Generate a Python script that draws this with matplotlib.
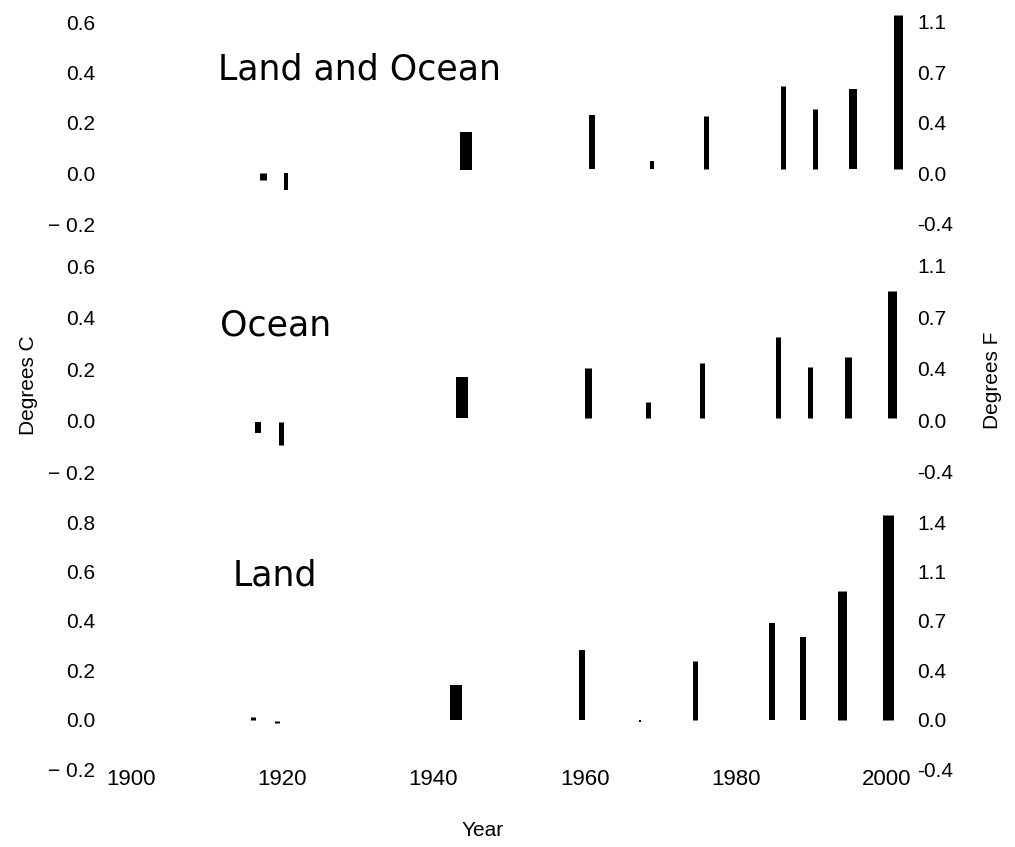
import matplotlib

matplotlib.use("Agg")
import matplotlib.pyplot as plt

# ----- data --------------------------------------------------------------
PANELS = ["Land and Ocean", "Ocean", "Land"]

LO_YEARS = [1917.5, 1920.5, 1944.3, 1961.0, 1968.9, 1976.1, 1986.2, 1990.5, 1995.5, 2001.5]
LO_LOW = [-0.026, -0.065, 0.014, 0.018, 0.018, 0.018, 0.018, 0.018, 0.018, 0.018]
LO_HIGH = [0.002, 0.002, 0.164, 0.232, 0.05, 0.228, 0.347, 0.255, 0.335, 0.628]

OC_YEARS = [1916.8, 1919.8, 1943.8, 1960.4, 1968.4, 1975.5, 1985.6, 1989.8, 1994.8, 2000.7]
OC_LOW = [-0.049, -0.095, 0.01, 0.01, 0.01, 0.01, 0.01, 0.01, 0.01, 0.01]
OC_HIGH = [-0.006, -0.006, 0.169, 0.204, 0.072, 0.223, 0.324, 0.208, 0.247, 0.503]

LA_YEARS = [1916.1, 1919.3, 1943.0, 1959.7, 1967.3, 1974.6, 1984.8, 1988.9, 1994.0, 2000.1]
LA_LOW = [0.0, -0.015, 0.0, 0.0, -0.008, 0.0, 0.0, 0.0, 0.0, 0.0]
LA_HIGH = [0.01, -0.005, 0.14, 0.28, 0.0, 0.237, 0.39, 0.335, 0.52, 0.83]

C_TICKS_6 = [-0.2, 0.0, 0.2, 0.4, 0.6]
C_LABELS_6 = ["\u2212 0.2", "0.0", "0.2", "0.4", "0.6"]
F_LABELS_6 = ["-0.4", "0.0", "0.4", "0.7", "1.1"]
C_TICKS_8 = [-0.2, 0.0, 0.2, 0.4, 0.6, 0.8]
C_LABELS_8 = ["\u2212 0.2", "0.0", "0.2", "0.4", "0.6", "0.8"]
F_LABELS_8 = ["-0.4", "0.0", "0.4", "0.7", "1.1", "1.4"]
YEAR_TICKS = [1900, 1920, 1940, 1960, 1980, 2000]
# -------------------------------------------------------------------------

W, H = 1015, 847
X0, X1 = 131, 887  # pixel columns of 1900 and 2000

# (years, low, high, bar widths px, yticks, C labels, F labels, top px, bottom px)
rows = [
    (LO_YEARS, LO_LOW, LO_HIGH, [7, 4, 12, 6, 4, 5, 5, 5, 8, 9],
     C_TICKS_6, C_LABELS_6, F_LABELS_6, 22, 224),
    (OC_YEARS, OC_LOW, OC_HIGH, [6, 5, 12, 7, 5, 5, 5, 5, 7, 9],
     C_TICKS_6, C_LABELS_6, F_LABELS_6, 266, 472),
    (LA_YEARS, LA_LOW, LA_HIGH, [5, 5, 12, 6, 2, 5, 6, 6, 9, 11],
     C_TICKS_8, C_LABELS_8, F_LABELS_8, 522, 769),
]
title_pos = [(218, 70), (220, 326), (233, 575)]

TICK_FONT = "Liberation Sans"
fig = plt.figure(figsize=(W / 100, H / 100), dpi=100)

for i, (yrs, lo, hi, wpx, ticks, clab, flab, top, bot) in enumerate(rows):
    ax = fig.add_axes([X0 / W, 1 - bot / H, (X1 - X0) / W, (bot - top) / H])
    ax.set_xlim(1900, 2000)
    ax.set_ylim(ticks[0], ticks[-1])
    ax.vlines(yrs, lo, hi, colors="black", linewidths=[w * 0.72 for w in wpx],
              clip_on=False)
    for s in ax.spines.values():
        s.set_visible(False)
    ax.set_yticks(ticks)
    ax.set_yticklabels(clab, fontsize=15, family=TICK_FONT)
    ax.tick_params(axis="y", length=0, pad=26)
    if i == 2:
        ax.set_xticks(YEAR_TICKS)
        ax.set_xticklabels([str(y) for y in YEAR_TICKS], fontsize=16,
                           family=TICK_FONT)
        ax.tick_params(axis="x", length=0, pad=0)
    else:
        ax.set_xticks([])

    ax2 = ax.twinx()
    ax2.set_ylim(ticks[0], ticks[-1])
    for s in ax2.spines.values():
        s.set_visible(False)
    ax2.set_yticks(ticks)
    ax2.set_yticklabels(flab, fontsize=15, family=TICK_FONT)
    ax2.tick_params(axis="y", length=0, pad=22)

    tx, ty = title_pos[i]
    fig.text(tx / W, 1 - ty / H, PANELS[i], fontsize=25, family="DejaVu Sans",
             ha="left", va="center")

fig.text(28 / W, 1 - 385 / H, "Degrees C", rotation=90, fontsize=15,
         family=TICK_FONT, ha="center", va="center")
fig.text(993 / W, 1 - 380 / H, "Degrees F", rotation=90, fontsize=15,
         family=TICK_FONT, ha="center", va="center")
fig.text(483 / W, 1 - 830 / H, "Year", fontsize=15, family=TICK_FONT,
         ha="center", va="center")

fig.savefig("out.png", dpi=100)
